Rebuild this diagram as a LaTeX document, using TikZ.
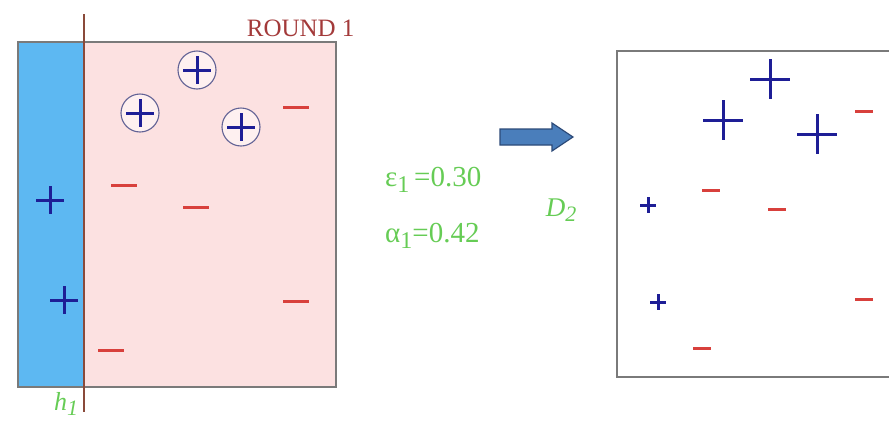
\documentclass[tikz,border=0pt]{standalone}
\usepackage{fontspec}
\setmainfont{Liberation Serif}
\definecolor{pinkbg}{HTML}{FCE1E1}
\definecolor{bluebg}{HTML}{5DB8F2}
\definecolor{boxgray}{HTML}{7A7A7A}
\definecolor{plusblue}{HTML}{1E1E96}
\definecolor{minusred}{HTML}{D8403C}
\definecolor{roundred}{HTML}{A33A3A}
\definecolor{hline}{HTML}{8A4A3A}
\definecolor{lgreen}{HTML}{66CC55}
\definecolor{arrowfill}{HTML}{4A7EBB}
\definecolor{arrowline}{HTML}{2C4A78}
\tikzset{
  panel/.style={draw=boxgray, line width=1.3pt},
  pl/.style={draw=plusblue, line width=3pt},
  mn/.style={draw=minusred, line width=3pt},
  ring/.style={circle, draw=boxgray!80!blue, line width=1.1pt, fill=pinkbg!50!white, minimum size=38pt, inner sep=0pt},
  lbl/.style={text=lgreen, inner sep=0pt},
}
\newcommand\plusat[3]{\draw[pl] ($(#1,#2)+(-#3,0)$) -- ++(2*#3,0); \draw[pl] ($(#1,#2)+(0,-#3)$) -- ++(0,2*#3);}
\newcommand\minusat[3]{\draw[mn] ($(#1,#2)+(-#3,0)$) -- ++(2*#3,0);}
\newcommand\lowsub[2]{\raisebox{-0.4ex}{\fontsize{#1}{#1}\selectfont #2}}
\usetikzlibrary{calc}
\begin{document}
\begin{tikzpicture}[x=1pt,y=-1pt]
\useasboundingbox (0,0) rectangle (889,429);
\clip (0,0) rectangle (889,429);
% left panel
\fill[pinkbg] (18,42) rectangle (336,387);
\fill[bluebg] (18,42) rectangle (84,387);
\draw[panel] (18,42) rectangle (336,387);
\draw[draw=hline, line width=2.2pt] (84,14) coordinate (htop) -- (84,412) coordinate (hbot);
\node[text=roundred, font=\fontsize{25}{25}\selectfont, anchor=east] (round) at (358,28) {ROUND 1};
\node[lbl, font=\fontsize{26}{26}\selectfont\itshape] (h1) at (66,404) {h\lowsub{22}{1}};
% circled pluses
\node[ring] (c1) at (197,70) {};
\node[ring] (c2) at (140,113) {};
\node[ring] (c3) at (241,127) {};
\plusat{197}{70}{14}
\plusat{140}{113}{14}
\plusat{241}{127}{14}
\plusat{50}{200}{14}
\plusat{64}{300}{14}
\minusat{296}{107}{13}
\minusat{124}{185}{13}
\minusat{196}{207}{13}
\minusat{296}{301}{13}
\minusat{111}{350}{13}
% middle
\draw[fill=arrowfill, draw=arrowline, line width=1.2pt] (500,129) -- (552,129) -- (552,123) -- (573,137) -- (552,151) -- (552,145) -- (500,145) -- cycle;
\node[lbl, font=\fontsize{29}{29}\selectfont, anchor=west] (eps) at (385,180) {ε\lowsub{24}{1}\,=0.30};
\node[lbl, font=\fontsize{29}{29}\selectfont, anchor=west] (alp) at (385,236) {α\lowsub{24}{1}=0.42};
\node[lbl, font=\fontsize{27}{27}\selectfont\itshape] (d2) at (561,210) {D\lowsub{22}{2}};
% right panel
\draw[panel] (617,51) rectangle (900,377);
\plusat{770}{79}{20}
\plusat{723}{120}{20}
\plusat{817}{134}{20}
\plusat{648}{205}{8}
\plusat{658}{302}{8}
\minusat{864}{111}{9}
\minusat{711}{190}{9}
\minusat{777}{209}{9}
\minusat{864}{299}{9}
\minusat{702}{348}{9}
\end{tikzpicture}
\end{document}
